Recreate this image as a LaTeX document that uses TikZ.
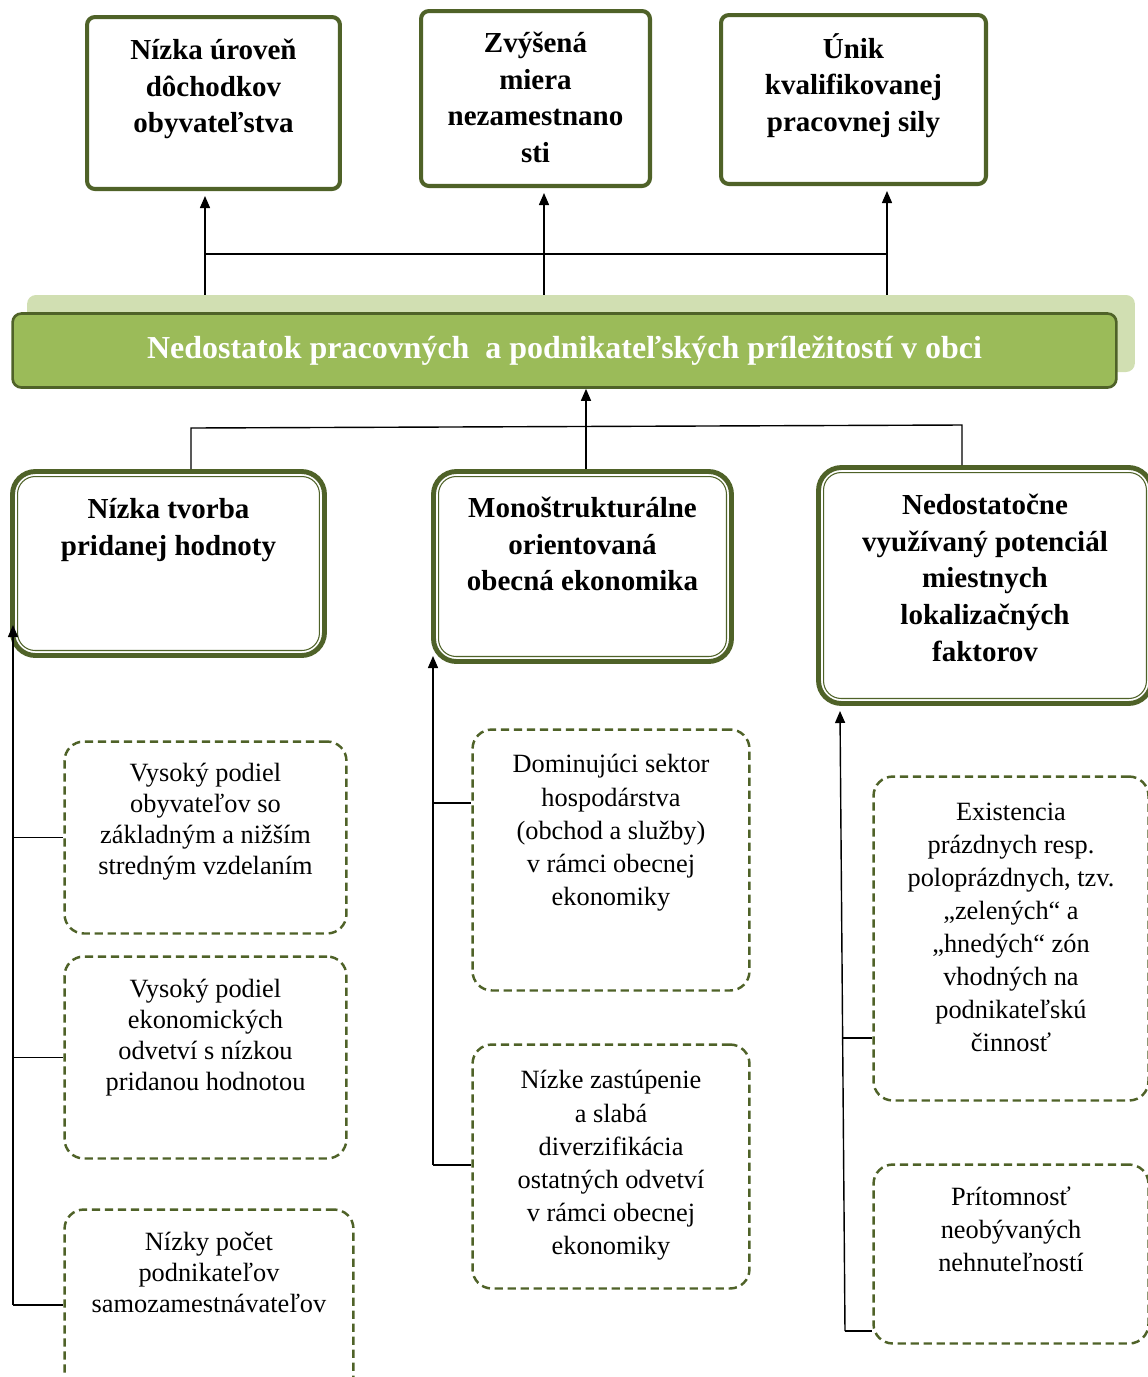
\documentclass[tikz,border=0pt]{standalone}
\usepackage{fontspec}
\setmainfont{Liberation Serif}
\definecolor{olivedark}{RGB}{79,98,40}
\definecolor{barfill}{RGB}{155,187,89}
\definecolor{barshade}{RGB}{209,223,178}
\usetikzlibrary{positioning,arrows.meta}

\begin{document}
\begin{tikzpicture}[
  x=0.02cm, y=-0.02cm,
  topbox/.style={draw=olivedark, line width=2.3pt, rounded corners=4.5pt, fill=white, inner sep=0pt},
  midbox/.style={draw=olivedark, line width=2.8pt, rounded corners=13pt, fill=white, inner sep=0pt,
    path picture={\draw[olivedark, line width=0.6pt, rounded corners=10pt]
      ([shift={(0.1cm,-0.1cm)}]path picture bounding box.north west) rectangle
      ([shift={(-0.1cm,0.1cm)}]path picture bounding box.south east);}},
  dashbox/.style={draw=olivedark, line width=1.4pt, dash pattern=on 4.7pt off 2.7pt, rounded corners=11pt, fill=white, inner sep=0pt},
  headtxt/.style={font=\bfseries\fontsize{16.5}{20.8}\selectfont, align=center, inner sep=0pt},
  bodytxt/.style={font=\fontsize{15}{17.6}\selectfont, align=center, inner sep=0pt},
  arrow/.style={-{Triangle[length=0.24cm,width=0.2cm]}, line width=0.8pt},
  link/.style={line width=0.8pt}
]
\useasboundingbox (0,0) rectangle (1148,1377);

\node[topbox, minimum width=5.06cm, minimum height=3.44cm] (t1) at (213.5,103) {};
\node[headtxt, below=0.48cm of t1.north] (t1t) {Nízka úroveň\\dôchodkov\\obyvateľstva};
\node[topbox, minimum width=4.58cm, minimum height=3.5cm] (t2) at (535.5,98.5) {};
\node[headtxt, below=0.46cm of t2.north] (t2t) {Zvýšená\\miera\\nezamestnano\\sti};
\node[topbox, minimum width=5.3cm, minimum height=3.38cm] (t3) at (853.5,99.5) {};
\node[headtxt, below=0.4cm of t3.north] (t3t) {Únik\\kvalifikovanej\\pracovnej sily};

\node[fill=barshade, rounded corners=5pt, minimum width=22.16cm, minimum height=1.54cm, inner sep=0pt] (barshadow) at (581,333.5) {};
\node[draw=olivedark, line width=1.5pt, fill=barfill, rounded corners=5pt, minimum width=22.08cm, minimum height=1.48cm, inner sep=0pt,
  text=white, font=\bfseries\fontsize{18.2}{21}\selectfont] (bar) at (564.5,350.5) {Nedostatok pracovných \ a podnikateľských príležitostí v obci};

\node[midbox, minimum width=6.24cm, minimum height=3.68cm] (b1) at (168.5,563.5) {};
\node[headtxt, below=0.58cm of b1.north] (b1t) {Nízka tvorba\\pridanej hodnoty};
\node[midbox, minimum width=5.96cm, minimum height=3.8cm] (b2) at (582.5,566.5) {};
\node[headtxt, below=0.56cm of b2.north] (b2t) {Monoštrukturálne\\orientovaná\\obecná ekonomika};
\node[midbox, minimum width=6.66cm, minimum height=4.72cm] (b3) at (985,585.5) {};
\node[headtxt, below=0.58cm of b3.north] (b3t) {Nedostatočne\\využívaný potenciál\\miestnych\\lokalizačných\\faktorov};

\node[dashbox, minimum width=5.64cm, minimum height=3.84cm] (d1) at (205.5,837.5) {};
\node[bodytxt, below=0.46cm of d1.north] (d1t) {Vysoký podiel\\obyvateľov so\\základným a nižším\\stredným vzdelaním};
\node[dashbox, minimum width=5.64cm, minimum height=4.04cm] (d2) at (205.5,1057.5) {};
\node[bodytxt, below=0.48cm of d2.north] (d2t) {Vysoký podiel\\ekonomických\\odvetví s nízkou\\pridanou hodnotou};
\node[dashbox, minimum width=5.78cm, minimum height=3.82cm] (d3) at (209,1305) {};
\node[bodytxt, below=0.48cm of d3.north] (d3t) {Nízky počet\\podnikateľov\\samozamestnávateľov};

\node[dashbox, minimum width=5.54cm, minimum height=5.22cm] (d4) at (611,860) {};
\node[bodytxt, below=0.52cm of d4.north, font=\fontsize{15}{18.8}\selectfont] (d4t) {Dominujúci sektor\\hospodárstva\\(obchod a služby)\\v rámci obecnej\\ekonomiky};
\node[dashbox, minimum width=5.54cm, minimum height=4.88cm] (d5) at (611,1166.5) {};
\node[bodytxt, below=0.54cm of d5.north, font=\fontsize{15}{18.8}\selectfont] (d5t) {Nízke zastúpenie\\a slabá\\diverzifikácia\\ostatných odvetví\\v rámci obecnej\\ekonomiky};

\node[dashbox, minimum width=5.5cm, minimum height=6.48cm] (d6) at (1011,938.5) {};
\node[bodytxt, below=0.54cm of d6.north, font=\fontsize{15}{18.8}\selectfont] (d6t) {Existencia\\prázdnych resp.\\poloprázdnych, tzv.\\„zelených“ a\\„hnedých“ zón\\vhodných na\\podnikateľskú\\činnosť};
\node[dashbox, minimum width=5.5cm, minimum height=3.58cm] (d7) at (1011,1254) {};
\node[bodytxt, below=0.46cm of d7.north, font=\fontsize{15}{18.8}\selectfont] (d7t) {Prítomnosť\\neobývaných\\nehnuteľností};

\coordinate (j1) at (205,254);
\coordinate (j2) at (544,254);
\coordinate (j3) at (887,254);
\draw[link] (j1) -- (j3);
\draw[arrow, shorten >=0.1cm] (barshadow.north -| j1) -- (j1 |- t1.south);
\draw[arrow, shorten >=0.1cm] (barshadow.north -| j2) -- (j2 |- t2.south);
\draw[arrow, shorten >=0.1cm] (barshadow.north -| j3) -- (j3 |- t3.south);

\coordinate (k1) at (191,428);
\coordinate (k2) at (586,426);
\coordinate (k3) at (962,425);
\draw[link] (b1.north -| k1) -- (k1) -- (k3) -- (b3.north -| k3);
\draw[arrow] (b2.north -| k2) -- (bar.south -| k2);

\coordinate (la) at (13,625);
\coordinate (lb) at (13,1305);
\draw[arrow] (lb) -- (la);
\draw[link] (d1.west -| la) -- (d1.west);
\draw[link] (d2.west -| la) -- (d2.west);
\draw[link] (lb) -- (d3.west);

\coordinate (ma) at (433,656);
\coordinate (mb) at (433,1165);
\coordinate (m4) at (433,803);
\draw[arrow] (mb) -- (ma);
\draw[link] (m4) -- (m4 -| d4.west);
\draw[link] (mb) -- (mb -| d5.west);

\coordinate (ra) at (840,711);
\coordinate (rb) at (845,1331);
\coordinate (r6) at (843,1038);
\draw[arrow] (rb) -- (ra);
\draw[link] (r6) -- (r6 -| d6.west);
\draw[link] (rb) -- (rb -| d7.west);
\end{tikzpicture}
\end{document}
